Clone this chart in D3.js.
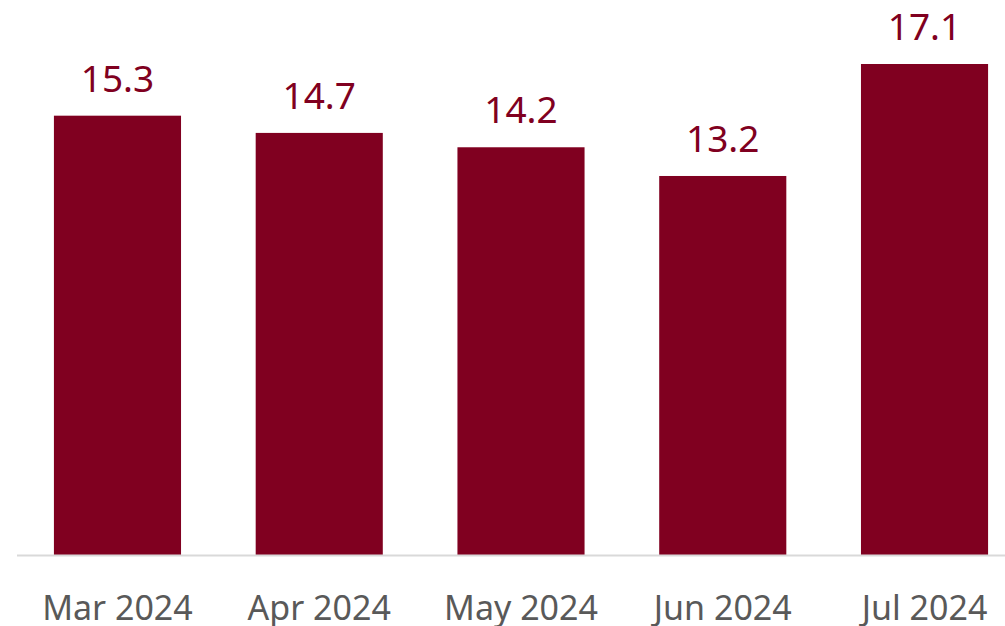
<!DOCTYPE html>
<html>
<head>
<meta charset="utf-8">
<script src="https://cdn.jsdelivr.net/npm/d3@7"></script>
<style>
    html, body { margin: 0; padding: 0; background: #fff; overflow: hidden; }
    svg { display: block; }
</style>
</head>
<body>
<div id="chart"></div>
<script>
const months = ["Mar 2024", "Apr 2024", "May 2024", "Jun 2024", "Jul 2024"];
const values = [15.3, 14.7, 14.2, 13.2, 17.1];

const size = {width: 1005, height: 626};
const baseY = 555;
const barColor = "#800020";

const svg = d3.select("#chart").append("svg")
    .attr("width", size.width)
    .attr("height", size.height);

const x = d3.scaleBand()
    .domain(months)
    .range([17, 1025])
    .paddingInner(0.37)
    .paddingOuter(0.183);

// ~28.7 px per unit
const y = d3.scaleLinear()
    .domain([0, 17.1])
    .range([baseY, 64]);

svg.selectAll(".bar")
    .data(months)
    .join("rect")
    .attr("class", "bar")
    .attr("x", d => x(d))
    .attr("y", (d, i) => y(values[i]))
    .attr("width", x.bandwidth())
    .attr("height", (d, i) => baseY - y(values[i]))
    .attr("fill", barColor);

svg.append("line")
    .attr("x1", 17)
    .attr("x2", size.width)
    .attr("y1", baseY + 0.5)
    .attr("y2", baseY + 0.5)
    .attr("stroke", "#d9d9d9")
    .attr("stroke-width", 2);

svg.selectAll(".valueLabel")
    .data(months)
    .join("text")
    .attr("class", "valueLabel")
    .attr("x", d => x(d) + x.bandwidth() / 2)
    .attr("y", (d, i) => y(values[i]) - 24)
    .attr("text-anchor", "middle")
    .attr("font-family", "'Noto Sans', sans-serif")
    .attr("font-size", 37)
    .attr("fill", barColor)
    .text((d, i) => values[i].toFixed(1));

const xAxis = svg.append("g")
    .attr("transform", "translate(0," + baseY + ")")
    .call(d3.axisBottom(x).tickSize(0).tickPadding(0));
xAxis.select(".domain").remove();
xAxis.selectAll("text")
    .attr("dy", null)
    .attr("y", 65)
    .attr("font-family", "'Noto Sans', sans-serif")
    .attr("font-size", 34)
    .attr("fill", "#595959");
</script>
</body>
</html>
